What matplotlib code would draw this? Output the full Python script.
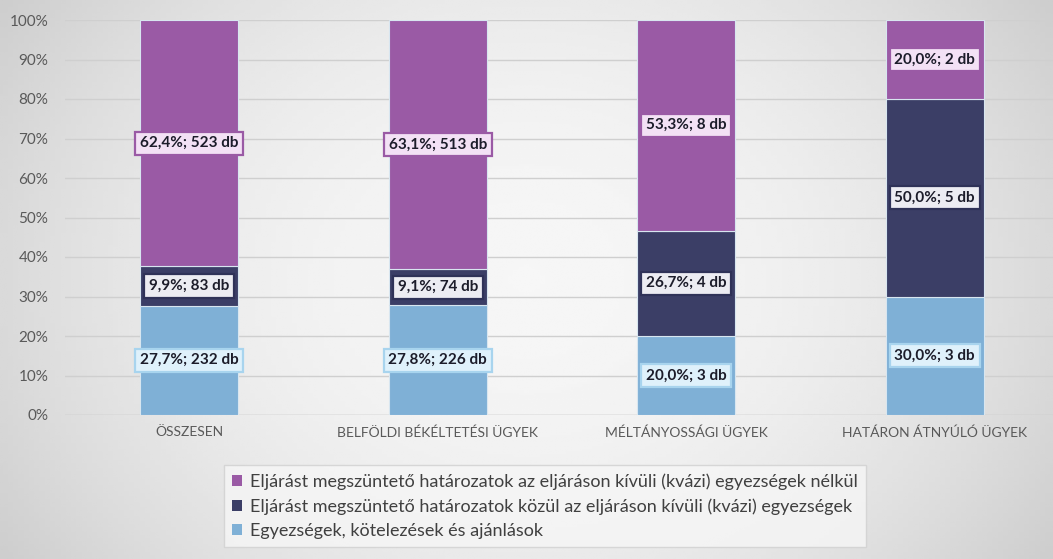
import numpy as np
import matplotlib.pyplot as plt
from matplotlib.patches import Patch

plt.rcParams['font.family'] = ['Lato', 'DejaVu Sans']

categories = ["ÖSSZESEN", "BELFÖLDI BÉKÉLTETÉSI ÜGYEK", "MÉLTÁNYOSSÁGI ÜGYEK", "HATÁRON ÁTNYÚLÓ ÜGYEK"]
series_names = [
    "Egyezségek, kötelezések és ajánlások",
    "Eljárást megszüntető határozatok közül az eljáráson kívüli (kvázi) egyezségek",
    "Eljárást megszüntető határozatok az eljáráson kívüli (kvázi) egyezségek nélkül",
]
pct_egyezseg = [27.7, 27.8, 20.0, 30.0]
pct_kvazi = [9.9, 9.1, 26.7, 50.0]
pct_nelkul = [62.4, 63.1, 53.3, 20.0]
db_egyezseg = [232, 226, 3, 3]
db_kvazi = [83, 74, 4, 5]
db_nelkul = [523, 513, 8, 2]

colors = ["#7fb0d6", "#3b3e66", "#9a5aa5"]
label_fill = ["#dff1fb", "#ececf2", "#f3e1f5"]
label_edge = ["#a8d4ee", "#2f3258", "#9a5aa5"]

fig = plt.figure(figsize=(10.53, 5.59), dpi=100)
fig.patch.set_facecolor("#e4e4e4")

# soft background gradient, lighter in the middle
bg = fig.add_axes([0, 0, 1, 1], zorder=-10)
yy, xx = np.mgrid[-1:1:200j, -1:1:200j]
grad = 0.965 - 0.16 * (xx ** 2 * 0.7 + yy ** 2 * 0.3)
bg.imshow(grad, cmap="gray", vmin=0, vmax=1, aspect="auto", extent=[0, 1, 0, 1])
bg.axis("off")

ax = fig.add_axes([65 / 1053, 144 / 559, 988 / 1053, 395 / 559])
ax.set_facecolor("none")

x = np.arange(len(categories))
width = 0.395
pcts = [pct_egyezseg, pct_kvazi, pct_nelkul]
dbs = [db_egyezseg, db_kvazi, db_nelkul]
bottom = np.zeros(len(categories))
for i in range(3):
    vals = np.array(pcts[i])
    ax.bar(x, vals, width, bottom=bottom, color=colors[i], edgecolor="#d8e6f0",
           linewidth=0.8, zorder=3)
    for j in range(len(categories)):
        txt = f"{vals[j]:.1f}".replace(".", ",") + f"%; {dbs[i][j]} db"
        ax.text(x[j], bottom[j] + vals[j] / 2, txt, ha="center", va="center",
                fontsize=11, fontweight="bold", color="#1c1c2a", zorder=5,
                bbox=dict(boxstyle="square,pad=0.3", facecolor=label_fill[i],
                          edgecolor=label_edge[i], linewidth=1.6))
    bottom += vals

ax.set_xlim(-0.5, 3.476)
ax.set_ylim(0, 100)
ax.set_yticks(np.arange(0, 101, 10))
ax.set_yticklabels([f"{v}%" for v in range(0, 101, 10)], fontsize=11, color="#595959")
ax.set_xticks(x)
ax.set_xticklabels(categories, fontsize=10, color="#595959")
ax.tick_params(length=0, pad=8)
ax.tick_params(axis="y", pad=12)
ax.grid(axis="y", color="#cfcfcf", linewidth=1, zorder=0)
for s in ax.spines.values():
    s.set_visible(False)
ax.axhline(0, color="#cfcfcf", linewidth=1, zorder=1)

handles = [Patch(facecolor=colors[i]) for i in (2, 1, 0)]
labels = [series_names[i] for i in (2, 1, 0)]
leg = fig.legend(handles, labels, loc="center", bbox_to_anchor=(545 / 1053, 53 / 559),
                 fontsize=13, frameon=True, fancybox=False, handlelength=0.55,
                 handleheight=0.55, handletextpad=0.4, labelspacing=0.45,
                 borderpad=0.45, labelcolor="#404040")
leg.get_frame().set_facecolor("#f6f6f6")
leg.get_frame().set_edgecolor("#d0d0d0")

fig.savefig("out.png", dpi=100)
